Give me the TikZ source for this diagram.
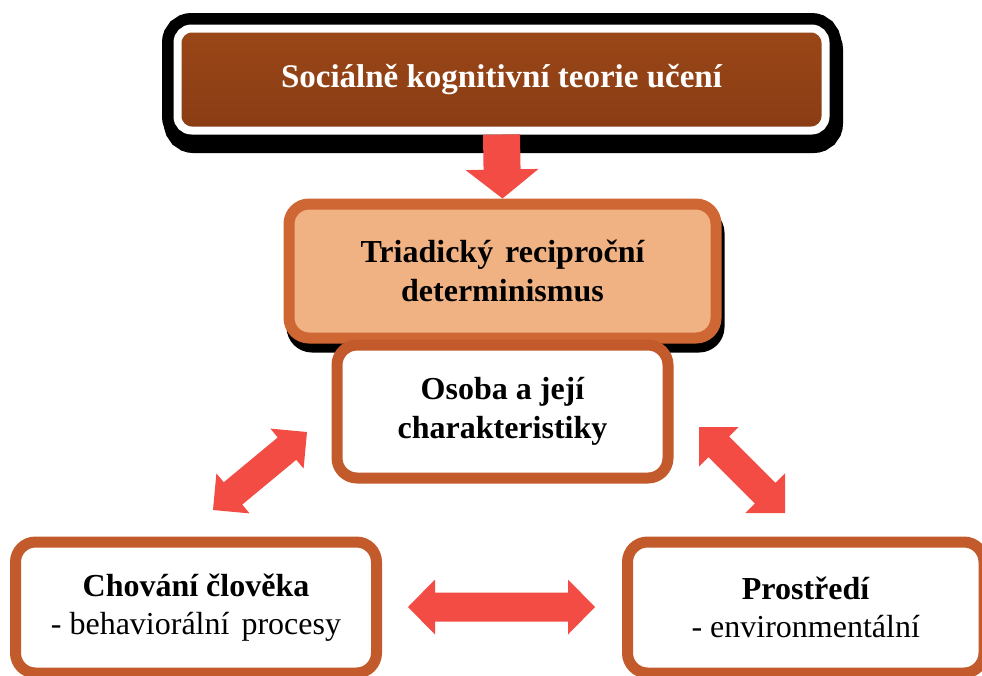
\documentclass[tikz,border=0pt]{standalone}
\usepackage{fontspec}
\setmainfont{Liberation Serif}
\usetikzlibrary{calc,shadows}

\definecolor{arrowfill}{HTML}{F24C44}
\definecolor{frameorange}{HTML}{C25A2B}
\definecolor{framewarm}{HTML}{CF6735}
\definecolor{salmon}{HTML}{F0B183}
\definecolor{brownfill}{HTML}{8A3C14}
\definecolor{brownlight}{HTML}{9A4718}

% block arrow with a head at both ends: from, to, shaft half width, head half width, head length
\newcommand\dblarrow[5]{%
  \fill[arrowfill] (#1)
    -- ($(#1)!#5!(#2)!#4!90:(#2)$) -- ($(#1)!#5!(#2)!#3!90:(#2)$)
    -- ($(#2)!#5!(#1)!#3!-90:(#1)$) -- ($(#2)!#5!(#1)!#4!-90:(#1)$)
    -- (#2)
    -- ($(#2)!#5!(#1)!#4!90:(#1)$) -- ($(#2)!#5!(#1)!#3!90:(#1)$)
    -- ($(#1)!#5!(#2)!#3!-90:(#2)$) -- ($(#1)!#5!(#2)!#4!-90:(#2)$)
    -- cycle;}
% block arrow with a single head at the second point
\newcommand\sglarrow[5]{%
  \fill[arrowfill] ($(#1)!#3!90:(#2)$)
    -- ($(#2)!#5!(#1)!#3!-90:(#1)$) -- ($(#2)!#5!(#1)!#4!-90:(#1)$)
    -- (#2)
    -- ($(#2)!#5!(#1)!#4!90:(#1)$) -- ($(#2)!#5!(#1)!#3!90:(#1)$)
    -- ($(#1)!#3!-90:(#2)$) -- cycle;}

\tikzset{
  frame/.style={rounded corners=20pt, align=center, inner sep=0pt,
    font=\fontsize{32}{38.5}\selectfont},
  headbox/.style={frame, rounded corners=14pt, draw=white, line width=8pt,
    top color=brownlight, bottom color=brownfill, text=white,
    font=\fontsize{33}{40}\selectfont\bfseries,
    general shadow={draw=black, fill=black, line width=31pt,
      shadow xshift=2pt, shadow yshift=-7pt},
    preaction={draw=black, line width=31pt}},
  triadbox/.style={frame, draw=framewarm, line width=11pt, fill=salmon,
    font=\fontsize{32}{38.5}\selectfont\bfseries,
    general shadow={fill=black, draw=black, line width=11pt,
      shadow xshift=3pt, shadow yshift=-9pt}},
  whitebox/.style={frame, draw=frameorange, line width=11pt, fill=white},
}

\begin{document}
\begin{tikzpicture}[x=1pt,y=-1pt]
\useasboundingbox (0,0) rectangle (982,675);

% boxes
\node[headbox, minimum width=648pt, minimum height=102pt] (top) at (501.5,79.5)
  {Sociálně kognitivní teorie učení};
\node[triadbox, minimum width=427pt, minimum height=134pt] (triad) at (502.5,271)
  {Triadický\hspace{4pt} reciproční\\determinismus};
\node[whitebox, font=\fontsize{32}{39}\selectfont\bfseries,
  minimum width=331pt, minimum height=133pt] (person) at (502.5,411.5)
  {Osoba a její\\charakteristiky};
\node[whitebox, minimum width=361pt, minimum height=131pt] (behav) at (196,607.5)
  {\textbf{Chování člověka}\\- behaviorální\hspace{4pt} procesy};
\node[whitebox, minimum width=356.5pt, minimum height=131pt] (env) at (805.75,607.5)
  {\textbf{Prostředí}\\- environmentální};

% arrow ends
\coordinate (lA) at (213,510);  \coordinate (lB) at (307,432);
\coordinate (rA) at (699,427);  \coordinate (rB) at (785,513);
\coordinate (hA) at (408,607);  \coordinate (hB) at (595,607);

% connectors
\sglarrow{top.south}{triad.north}{18.5pt}{36.5pt}{29pt}
\dblarrow{lA}{lB}{14.5pt}{26pt}{26pt}
\dblarrow{rA}{rB}{14.5pt}{28pt}{28pt}
\dblarrow{hA}{hB}{14.5pt}{27.5pt}{27pt}
\end{tikzpicture}
\end{document}
